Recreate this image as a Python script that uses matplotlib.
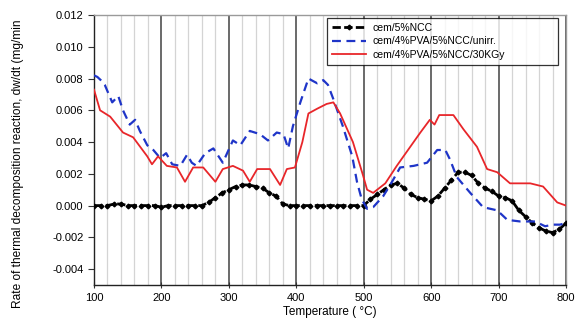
import matplotlib
matplotlib.use("Agg")
import matplotlib.pyplot as plt
from matplotlib.ticker import MultipleLocator, FormatStrFormatter

plt.rcParams['font.family'] = ['Liberation Sans', 'DejaVu Sans']

# ---- data ----
temp_black = [100, 110, 120, 130, 140, 150, 160, 170, 180, 190, 200, 210, 220, 230, 240, 250, 260,
              270, 280, 290, 300, 310, 320, 330, 340, 350, 360, 370, 380, 390, 400, 410, 420, 430,
              440, 450, 460, 470, 480, 490, 500, 510, 520, 530, 540, 550, 560, 570, 580, 590, 600,
              610, 620, 630, 640, 650, 660, 670, 680, 690, 700, 710, 720, 730, 740, 750, 760, 770,
              780, 790, 800]
rate_black = [0.0, 0.0, 0.0, 0.0001, 0.0001, 0.0, 0.0, 0.0, 0.0, 0.0, -0.0001, 0.0, 0.0, 0.0, 0.0, 0.0, 0.0,
              0.0002, 0.0005, 0.0008, 0.0010, 0.0012, 0.0013, 0.0013, 0.0012, 0.0011, 0.0008, 0.0006,
              0.0001, 0.0, 0.0, 0.0, 0.0, 0.0, 0.0, 0.0, 0.0, 0.0, 0.0, 0.0, 0.0, 0.0004, 0.0007,
              0.0010, 0.0013, 0.0014, 0.0011, 0.0007, 0.0005, 0.0004, 0.0003, 0.0006, 0.0011, 0.0016,
              0.0021, 0.0021, 0.0019, 0.0014, 0.0011, 0.0009, 0.0006, 0.0005, 0.0003, -0.0003,
              -0.0007, -0.0011, -0.0014, -0.0016, -0.0017, -0.0015, -0.0011]

temp_blue = [100, 105, 110, 116, 127, 136, 143, 153, 161, 168, 179, 188, 198, 207, 216, 228, 238, 245,
             252, 265, 277, 291, 306, 317, 331, 346, 358, 371, 381, 388, 395, 406, 418, 431, 440, 447,
             455, 469, 483, 490, 497, 505, 514, 529, 542, 554, 574, 594, 609, 621, 628, 638, 658, 677,
             698, 713, 732, 754, 769, 781, 791, 800]
rate_blue = [0.0082, 0.0081, 0.0079, 0.0076, 0.0065, 0.0069, 0.0060, 0.0051, 0.0054, 0.0047, 0.0038,
             0.0035, 0.0030, 0.0033, 0.0026, 0.0025, 0.0032, 0.0027, 0.0025, 0.0033, 0.0036, 0.0027,
             0.0041, 0.0038, 0.0047, 0.0045, 0.0041, 0.0046, 0.0045, 0.0036, 0.0050, 0.0065, 0.0080,
             0.0077, 0.0079, 0.0076, 0.0067, 0.0050, 0.0031, 0.0015, 0.0004, -0.0002, -0.0001, 0.0006,
             0.0015, 0.0024, 0.0025, 0.0027, 0.0035, 0.0035, 0.0029, 0.0018, 0.0008, -0.0001, -0.0003,
             -0.0009, -0.0010, -0.0010, -0.0013, -0.0012, -0.0012, -0.0011]

temp_red = [100, 109, 124, 143, 158, 179, 186, 195, 208, 223, 235, 247, 262, 280, 291, 306, 321, 331,
            342, 361, 376, 386, 398, 409, 418, 431, 445, 455, 465, 484, 499, 505, 514, 532, 549, 569,
            584, 598, 605, 612, 633, 648, 668, 683, 698, 717, 747, 766, 787, 800]
rate_red = [0.0073, 0.0060, 0.0056, 0.0046, 0.0043, 0.0031, 0.0026, 0.0031, 0.0025, 0.0024, 0.0015,
            0.0024, 0.0024, 0.0015, 0.0023, 0.0025, 0.0022, 0.0015, 0.0023, 0.0023, 0.0013, 0.0023,
            0.0024, 0.0040, 0.0058, 0.0061, 0.0064, 0.0065, 0.0058, 0.0040, 0.0019, 0.0010, 0.0008,
            0.0014, 0.0025, 0.0037, 0.0046, 0.0054, 0.0051, 0.0057, 0.0057, 0.0048, 0.0037, 0.0023,
            0.0021, 0.0014, 0.0014, 0.0012, 0.0002, 0.0000]

labels = ["cem/5%NCC", "cem/4%PVA/5%NCC/unirr.", "cem/4%PVA/5%NCC/30KGy"]
x_label = "Temperature ( °C)"
y_label = "Rate of thermal decomposition reaction, dw/dt (mg/min"

# ---- figure ----
fig = plt.figure(figsize=(5.82, 3.27), dpi=100)
ax = fig.add_axes([94/582, 1-285/327, (566-94)/582, (285-15)/327])

ax.set_xlim(100, 800)
ax.set_ylim(-0.005, 0.012)

ax.xaxis.set_major_locator(MultipleLocator(100))
ax.xaxis.set_minor_locator(MultipleLocator(20))
ax.yaxis.set_major_locator(MultipleLocator(0.002))
ax.yaxis.set_major_formatter(FormatStrFormatter('%.3f'))
ax.grid(True, which='minor', axis='x', color='#d4d4d4', lw=0.9)
ax.grid(True, which='major', axis='x', color='#505050', lw=1.2)
ax.set_axisbelow(True)

ax.plot(temp_black, rate_black, color='black', lw=2.0, ls=(0, (3, 1.2)),
        marker='D', ms=2.4, label=labels[0], zorder=3)
ax.plot(temp_blue, rate_blue, color='#1f35c8', lw=1.6, ls=(0, (4, 2.5)),
        label=labels[1], zorder=4)
ax.plot(temp_red, rate_red, color='#e8262a', lw=1.3, label=labels[2], zorder=5)

ax.tick_params(axis='both', which='major', labelsize=8, length=4, color='#333333')
ax.tick_params(axis='x', which='minor', length=0)
ax.tick_params(axis='x', which='major', direction='inout', length=5)

for s in ['left', 'bottom']:
    ax.spines[s].set_color('#222222')
    ax.spines[s].set_linewidth(1.0)
for s in ['top', 'right']:
    ax.spines[s].set_color('#9a9a9a')
    ax.spines[s].set_linewidth(1.0)

ax.set_xlabel(x_label, fontsize=8.5, labelpad=2)
ax.set_ylabel(y_label, fontsize=8.6)
ax.yaxis.set_label_coords(-0.148, 0.45)

leg = ax.legend(loc='upper left', bbox_to_anchor=(0.494, 0.797, 0.489, 0.192), mode='expand',
                fontsize=7.5, frameon=True, fancybox=False, edgecolor='black',
                handlelength=3.3, labelspacing=0.35, borderaxespad=0, borderpad=0.45,
                handletextpad=0.6)
leg.get_frame().set_linewidth(0.9)

fig.savefig('out.png', dpi=100)
